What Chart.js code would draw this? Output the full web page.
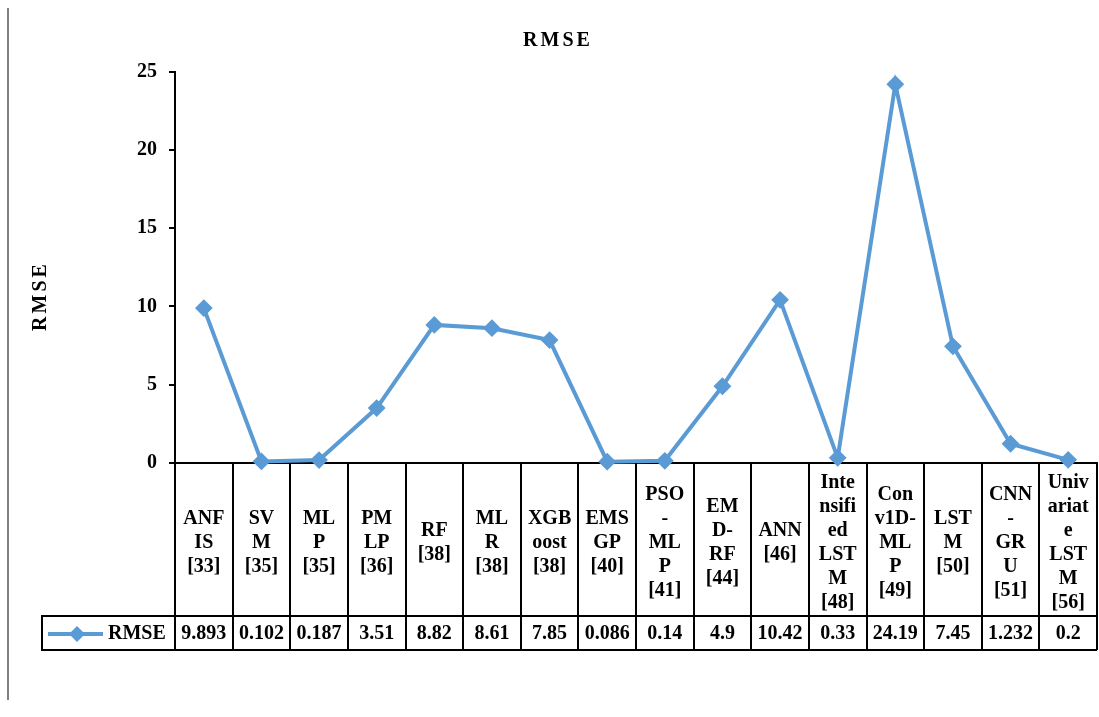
<!DOCTYPE html>
<html>
<head>
<meta charset="utf-8">
<script src="https://cdn.jsdelivr.net/npm/chart.js@4.4.0/dist/chart.umd.min.js"></script>
<style>
    html, body { margin: 0; padding: 0; background: #fff; }
    #wrap { position: relative; width: 1099px; height: 717px; }
    #edge { position: absolute; left: 7px; top: 8px; width: 2px; height: 692px; background: #808080; }
</style>
</head>
<body>
<div id="wrap"><div id="edge"></div><canvas id="rmseChart"></canvas></div>
<script>
// category labels, broken the same way as the table cells in the figure
const categories = [
    ['ANF', 'IS', '[33]'],
    ['SV', 'M', '[35]'],
    ['ML', 'P', '[35]'],
    ['PM', 'LP', '[36]'],
    ['RF', '[38]'],
    ['ML', 'R', '[38]'],
    ['XGB', 'oost', '[38]'],
    ['EMS', 'GP', '[40]'],
    ['PSO', '-', 'ML', 'P', '[41]'],
    ['EM', 'D-', 'RF', '[44]'],
    ['ANN', '[46]'],
    ['Inte', 'nsifi', 'ed', 'LST', 'M', '[48]'],
    ['Con', 'v1D-', 'ML', 'P', '[49]'],
    ['LST', 'M', '[50]'],
    ['CNN', '-', 'GR', 'U', '[51]'],
    ['Univ', 'ariat', 'e', 'LST', 'M', '[56]']
];
const rmseValues = [9.893, 0.102, 0.187, 3.51, 8.82, 8.61, 7.85, 0.086, 0.14, 4.9, 10.42, 0.33, 24.19, 7.45, 1.232, 0.2];
const seriesName = 'RMSE';
const chartTitle = 'RMSE';
const yTitle     = 'RMSE';

const BLUE  = '#5B9BD5';
const FONT  = '"Liberation Serif", "Times New Roman", serif';

const tablePlugin = {
    id: 'dataTable',
    afterDraw(chart) {
        const { ctx, chartArea: ca, scales: { x } } = chart;
        const top = ca.bottom, mid = 616, bot = 650, legLeft = 42;
        const colW = x.getPixelForValue(1) - x.getPixelForValue(0);

        ctx.save();
        ctx.strokeStyle = '#000';
        ctx.lineWidth = 2;
        ctx.beginPath();
        for (let i = 0; i <= categories.length; i++) {
            const xx = Math.round(x.getPixelForValue(i) - colW / 2);
            ctx.moveTo(xx, top); ctx.lineTo(xx, bot);
        }
        ctx.moveTo(legLeft, mid); ctx.lineTo(ca.right, mid);
        ctx.moveTo(legLeft, bot); ctx.lineTo(ca.right, bot);
        ctx.moveTo(legLeft, mid - 1); ctx.lineTo(legLeft, bot + 1);
        ctx.stroke();

        // values row
        ctx.fillStyle = '#000';
        ctx.font = 'bold 20px ' + FONT;
        ctx.textAlign = 'center';
        ctx.textBaseline = 'middle';
        const rowY = (mid + bot) / 2 + 1;
        rmseValues.forEach((v, i) => ctx.fillText(String(v), x.getPixelForValue(i), rowY));

        // legend key
        ctx.strokeStyle = BLUE;
        ctx.lineWidth = 4;
        ctx.beginPath(); ctx.moveTo(48, rowY); ctx.lineTo(103, rowY); ctx.stroke();
        ctx.fillStyle = BLUE;
        ctx.beginPath();
        ctx.moveTo(77 - 8, rowY); ctx.lineTo(77, rowY - 8); ctx.lineTo(77 + 8, rowY); ctx.lineTo(77, rowY + 8);
        ctx.closePath(); ctx.fill();
        ctx.fillStyle = '#000';
        ctx.textAlign = 'left';
        ctx.fillText(seriesName, 108, rowY);

        // chart title
        ctx.letterSpacing = '3px';
        ctx.textAlign = 'center';
        ctx.fillText(chartTitle, 558, 41);

        // y title
        ctx.translate(41, 296);
        ctx.rotate(-Math.PI / 2);
        ctx.fillText(yTitle, 0, 0);
        ctx.letterSpacing = '0px';
        ctx.restore();
    }
};

new Chart(document.getElementById('rmseChart'), {
    type: 'line',
    data: {
        labels: categories,
        datasets: [{
            label: seriesName, data: rmseValues,
            borderColor: BLUE, backgroundColor: BLUE, borderWidth: 4,
            pointStyle: 'rectRot', pointRadius: 7.5, pointBorderWidth: 2,
            pointBackgroundColor: BLUE, pointBorderColor: BLUE,
            tension: 0, clip: false
        }]
    },
    options: {
        responsive: true, maintainAspectRatio: false, animation: false,
        layout: { autoPadding: false, padding: { left: 0, right: 2, top: 71.6, bottom: 101 } },
        plugins: { legend: { display: false }, tooltip: { enabled: false } },
        scales: {
            x: {
                offset: true,
                grid: { display: false, drawTicks: false },
                border: { display: true, color: '#000', width: 2 },
                ticks: { color: '#000', font: { family: FONT, size: 20, weight: 'bold', lineHeight: 1.2 }, padding: 20, maxRotation: 0, autoSkip: false, crossAlign: 'center' },
                afterFit: s => { s.height = 153; s.paddingLeft = 0; s.paddingRight = 0; }
            },
            y: {
                min: 0, max: 25,
                grid: { drawOnChartArea: false, drawTicks: true, tickLength: 6, color: '#000', lineWidth: 2 },
                border: { display: true, color: '#000', width: 2 },
                ticks: { stepSize: 5, color: '#000', font: { family: FONT, size: 20, weight: 'bold' }, padding: 12 },
                afterFit: s => { s.width = 175; }
            }
        }
    },
    plugins: [tablePlugin]
});
</script>
</body>
</html>
